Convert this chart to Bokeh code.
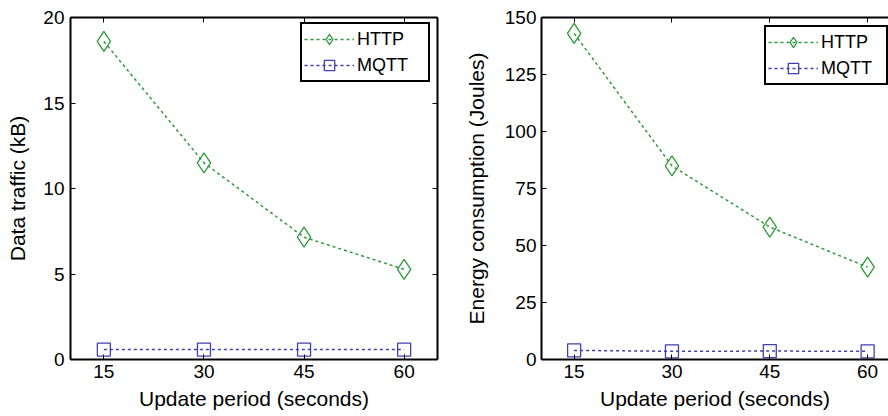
from bokeh.plotting import figure
from bokeh.layouts import row
from bokeh.models import Range1d, LinearAxis, FixedTicker, Legend, LegendItem
from bokeh.embed import file_html
from bokeh.resources import INLINE

periods = [15, 30, 45, 60]
traffic_http = [18.6, 11.5, 7.15, 5.27]
traffic_mqtt = [0.58, 0.58, 0.58, 0.58]
energy_http = [143.0, 84.9, 58.1, 40.5]
energy_mqtt = [4.0, 3.6, 3.7, 3.6]
x_ticks = [15, 30, 45, 60]
traffic_ticks = [0, 5, 10, 15, 20]
energy_ticks = [0, 25, 50, 75, 100, 125, 150]

GREEN = "#2f9a3a"
BLUE = "#4040b0"
FONT = "Liberation Sans"


def style_axis(ax, ticks, labels=True):
    ax.ticker = FixedTicker(ticks=ticks)
    ax.axis_line_color = "black"
    ax.axis_line_width = 2
    ax.major_tick_in = 5
    ax.major_tick_out = 0
    ax.minor_tick_in = 0
    ax.minor_tick_out = 0
    ax.major_tick_line_color = "black"
    ax.major_tick_line_width = 1
    ax.major_label_text_font = FONT
    ax.major_label_text_font_size = "19px"
    ax.major_label_text_color = "black"
    ax.axis_label_text_font = FONT
    ax.axis_label_text_font_size = "21px"
    ax.axis_label_text_font_style = "normal"
    ax.axis_label_text_color = "black"
    if not labels:
        ax.major_label_text_font_size = "0px"
        ax.major_label_text_alpha = 0
        ax.major_label_standoff = 0


def make_plot(http, mqtt, yticks, ymax, ylabel, xend, bl, br, bt, with_right,
              leg_loc, leg_label_width, ylab_standoff, ylab_tick_standoff):
    p = figure(width=444, height=416, output_backend="svg", toolbar_location=None,
               x_range=Range1d(10, xend), y_range=Range1d(0, ymax),
               min_border_left=bl, min_border_right=br, min_border_top=bt,
               min_border_bottom=57, x_axis_type=None, y_axis_type=None)
    p.outline_line_color = None
    p.xgrid.visible = False
    p.ygrid.visible = False
    p.background_fill_color = "white"
    p.border_fill_color = "white"

    xb = LinearAxis(axis_label="Update period (seconds)")
    style_axis(xb, x_ticks)
    xb.major_label_standoff = 5
    xb.axis_label_standoff = 6
    p.add_layout(xb, "below")
    yl = LinearAxis(axis_label=ylabel)
    style_axis(yl, yticks)
    yl.major_label_standoff = ylab_tick_standoff
    yl.axis_label_standoff = ylab_standoff
    p.add_layout(yl, "left")
    xa = LinearAxis()
    style_axis(xa, x_ticks, labels=False)
    p.add_layout(xa, "above")
    if with_right:
        yr = LinearAxis()
        style_axis(yr, yticks, labels=False)
        p.add_layout(yr, "right")

    l1 = p.line(periods, http, line_color=GREEN, line_width=1.5, line_dash="3 3")
    m1 = p.scatter(periods, http, marker="diamond", size=20, fill_color=None,
                   line_color=GREEN, line_width=1.3)
    l2 = p.line(periods, mqtt, line_color=BLUE, line_width=1.5, line_dash="3 3")
    m2 = p.scatter(periods, mqtt, marker="square", size=13, fill_color=None,
                   line_color=BLUE, line_width=1.3)

    legend = Legend(items=[LegendItem(label="HTTP", renderers=[l1, m1]),
                           LegendItem(label="MQTT", renderers=[l2, m2])],
                    location=leg_loc)
    legend.label_text_font = FONT
    legend.label_text_font_size = "18px"
    legend.label_text_color = "black"
    legend.border_line_color = "black"
    legend.border_line_alpha = 1
    legend.border_line_width = 2
    legend.background_fill_color = "white"
    legend.background_fill_alpha = 1
    legend.glyph_width = 50
    legend.glyph_height = 26
    legend.label_standoff = 3
    legend.label_width = leg_label_width
    legend.label_height = 26
    legend.padding = 2
    legend.spacing = 0
    legend.margin = 0
    p.add_layout(legend, "center")
    return p


p1 = make_plot(traffic_http, traffic_mqtt, traffic_ticks, 20, "Data traffic (kB)",
               65, 70, 7, 15, True, (230, 277), 69, 11, 6)
p2 = make_plot(energy_http, energy_mqtt, energy_ticks, 150,
               "Energy consumption (Joules)", 63.2, 97, 0, 17, False, (223, 274), 63, 14, 5)

layout = row(p1, p2)
open("out.html", "w").write(file_html(layout, INLINE))
